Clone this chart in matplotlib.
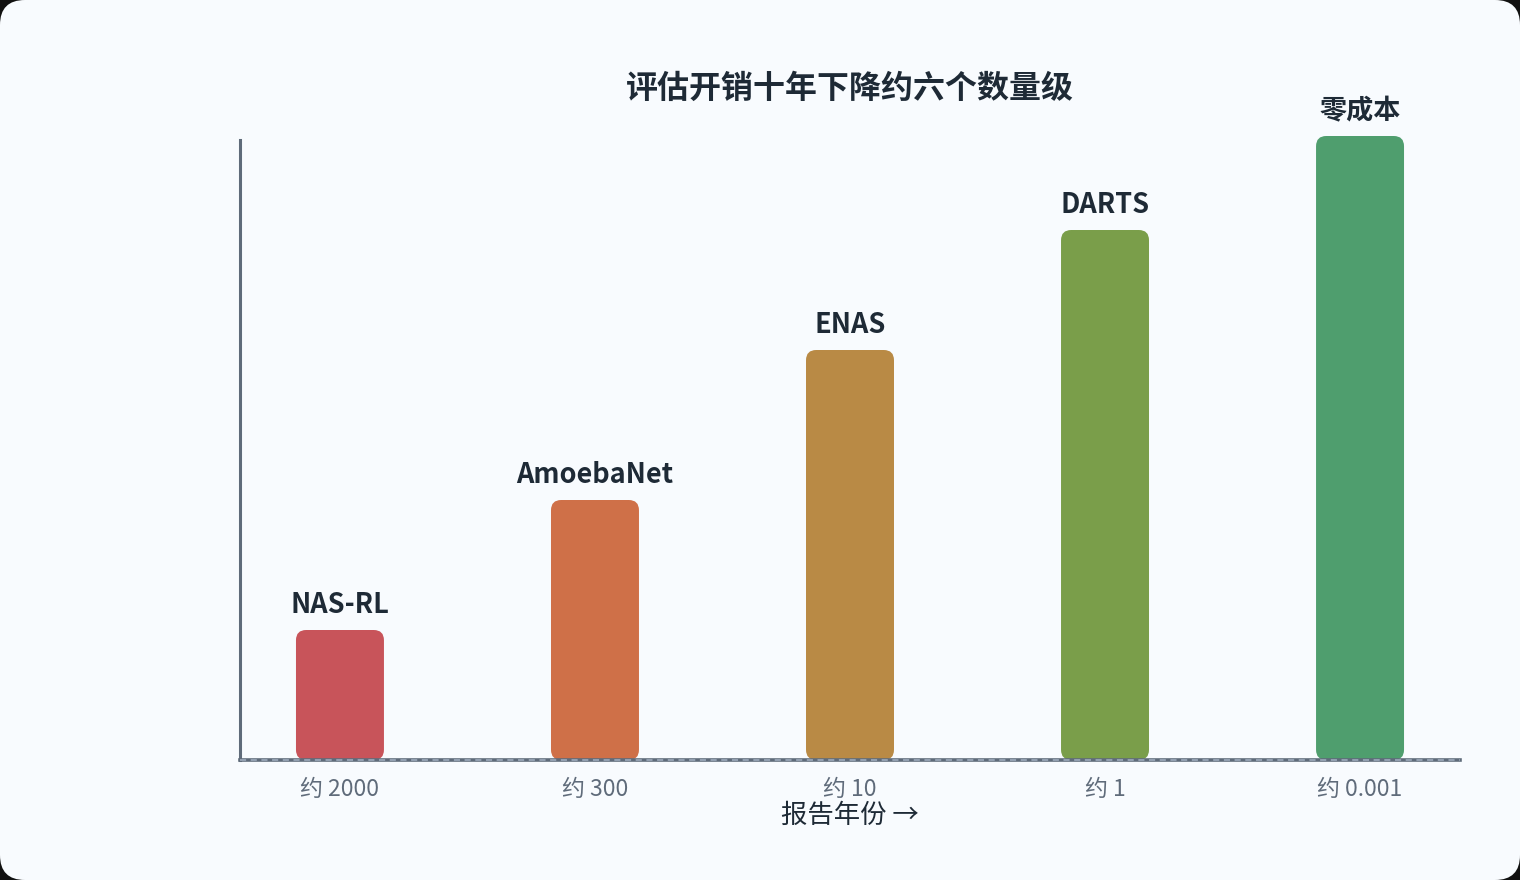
import numpy as np
import matplotlib.pyplot as plt
from matplotlib.patches import FancyBboxPatch

plt.rcParams['font.family'] = ['Noto Sans CJK SC', 'DejaVu Sans']

# relative bar heights (taller = cheaper evaluation)
methods = ['NAS-RL', 'AmoebaNet', 'ENAS', 'DARTS', '零成本']
heights = [130, 260, 410, 530, 624]
cost_labels = ['约 2000', '约 300', '约 10', '约 1', '约 0.001']
colors = ['#c8545a', '#cf7048', '#b98a45', '#7a9e4a', '#4f9e6e']

title = '评估开销十年下降约六个数量级'
xlabel = '报告年份 →'

W, H = 1520, 880
fig = plt.figure(figsize=(W / 100, H / 100), dpi=100)
fig.patch.set_facecolor('#111111')

# rounded card behind everything
card = FancyBboxPatch((0, 0), W / 100, H / 100, boxstyle='round,pad=0,rounding_size=0.25',
                      transform=fig.dpi_scale_trans, facecolor='#f8fbfe', edgecolor='none', zorder=-10)
fig.patches.append(card)

ax = fig.add_axes([240 / W, 1 - 760 / H, 1220 / W, 630 / H])
ax.set_facecolor('none')

x = np.arange(len(methods))
bars = ax.bar(x, heights, width=0.345, color=colors)
ax.set_xlim(-0.392, len(methods) - 1 + 0.392)
ax.set_ylim(0, 630)

# swap the square bars for rounded ones
aspect = (630 / 630) / (4.784 / 1220)
for b, c in zip(bars, colors):
    b.set_visible(False)
    p = FancyBboxPatch((b.get_x(), 0), b.get_width(), b.get_height(),
                       boxstyle='round,pad=0,rounding_size=0.04', mutation_aspect=aspect,
                       facecolor=c, edgecolor='none', zorder=2)
    ax.add_patch(p)

for xi, h, m in zip(x, heights, methods):
    ax.annotate(m, (xi, h), xytext=(0, 8), textcoords='offset points',
                ha='center', va='bottom', fontsize=19.5, fontweight='bold', color='#1e2a36')

for s in ['top', 'right', 'bottom']:
    ax.spines[s].set_visible(False)
ax.spines['left'].set_color('#5f6b7a')
ax.spines['left'].set_linewidth(2.2)
ax.spines['left'].set_bounds(0, 620)
ax.axhline(0, color='#5f6b7a', lw=2.6, zorder=3, clip_on=False)
ax.axhline(0, color='#a3b1c2', lw=1.1, ls=(0, (4, 3)), zorder=4, clip_on=False)

ax.set_yticks([])
ax.set_xticks(x)
ax.set_xticklabels(cost_labels, fontsize=16.5, color='#5f6b7a')
ax.tick_params(axis='x', length=0, pad=13)
ax.set_xlabel(xlabel, fontsize=19, color='#1e2a36', va='center')
ax.xaxis.set_label_coords(0.5, -(815 - 760) / 630)

fig.text(850 / W, 1 - 89 / H, title, ha='center', va='center',
         fontsize=23, fontweight='bold', color='#1e2a36')

fig.savefig('out.png', dpi=100, facecolor=fig.get_facecolor())
